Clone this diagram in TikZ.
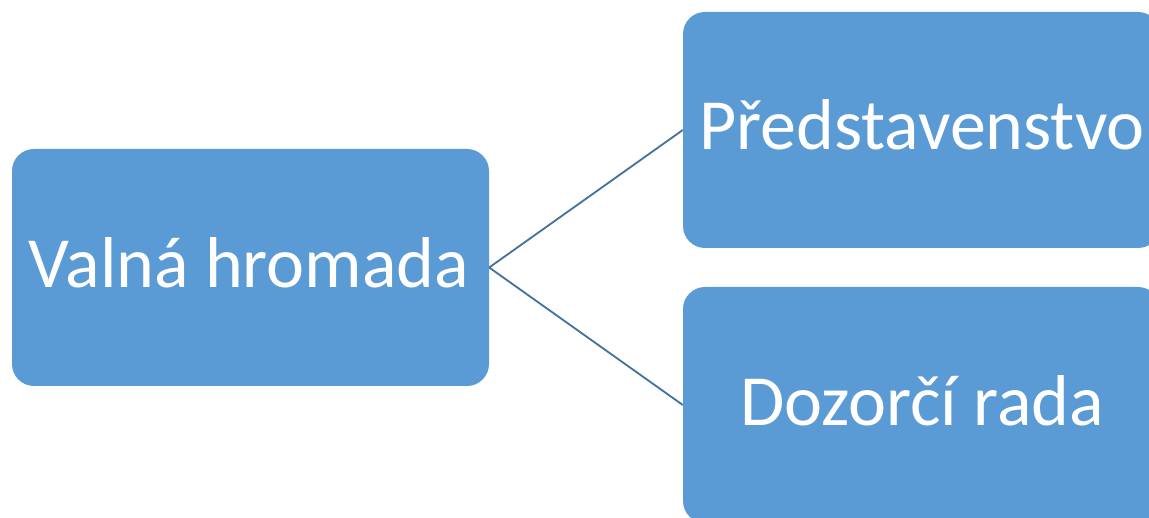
\documentclass[tikz,border=0pt]{standalone}
\usepackage{fontspec}
\setmainfont{Carlito}
\definecolor{boxblue}{HTML}{5B9BD5}
\definecolor{lineblue}{HTML}{41719C}
\tikzset{
  orgbox/.style={fill=boxblue, draw=none, rounded corners=22pt, inner sep=0pt},
  orglabel/.style={text=white, font=\fontsize{72}{86}\selectfont, inner sep=0pt, anchor=base},
  orglink/.style={draw=lineblue, line width=1.8pt}
}
\begin{document}
\begin{tikzpicture}[x=1pt,y=1pt]
\useasboundingbox (0,0) rectangle (1149,517);
\clip (0,0) rectangle (1149,517);
\fill[white] (0,0) rectangle (1149,517);
\node[orgbox, minimum width=477pt, minimum height=237pt] (vh) at (250.5,249.5) {};
\node[orgbox, minimum width=477pt, minimum height=236pt] (pr) at (921.5,387) {};
\node[orgbox, minimum width=477pt, minimum height=236pt] (dr) at (921.5,112) {};
\node[orglabel] (vht) at (249,229) {Valná hromada};
\node[orglabel] (prt) at (922,367) {Představenstvo};
\node[orglabel] (drt) at (922,91) {Dozorčí rada};
\draw[orglink] (vh.east) -- (pr.west);
\draw[orglink] (vh.east) -- (dr.west);
\end{tikzpicture}
\end{document}
